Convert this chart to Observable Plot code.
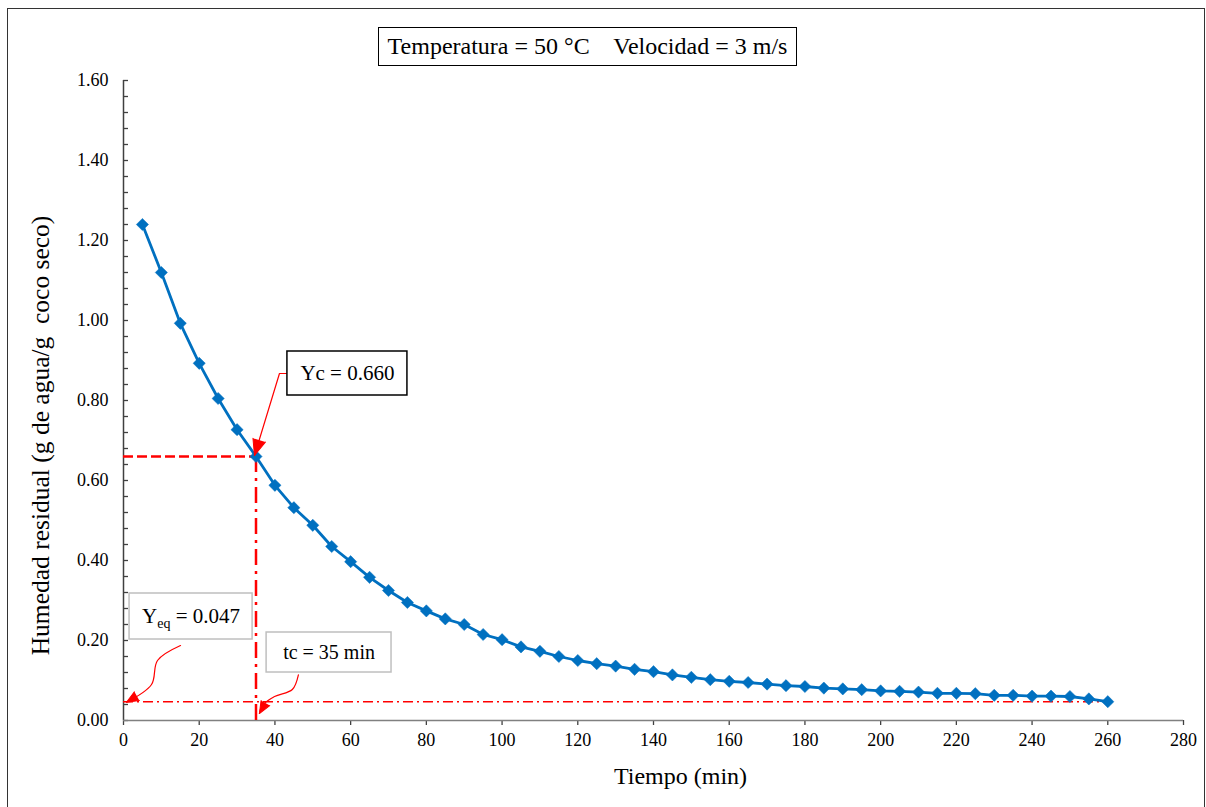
<!DOCTYPE html>
<html><head><meta charset="utf-8">
<script src="https://cdn.jsdelivr.net/npm/d3@7"></script>
<script src="https://cdn.jsdelivr.net/npm/@observablehq/plot@0.6"></script>
<style>
body{margin:0;background:#fff;}
#wrap{position:relative;width:1206px;height:807px;overflow:hidden;font-family:"Liberation Serif","Times New Roman",serif;}
#frame{position:absolute;left:7px;top:8px;width:1198px;height:820px;border:1.5px solid #333;box-sizing:border-box;pointer-events:none;}
#title{position:absolute;left:378px;top:27px;width:419px;height:39px;border:1.5px solid #000;box-sizing:border-box;background:#fff;font-size:24px;line-height:36px;text-align:center;white-space:pre;color:#000;}
#chart{position:absolute;left:0;top:0;}
svg text{white-space:pre;}
</style></head>
<body><div id="wrap"><div id="chart"></div><div id="frame"></div><div id="title"></div></div>
<script>
// ---- texts
const titleText = "Temperatura = 50 °C    Velocidad = 3 m/s";
const xLabel = "Tiempo (min)";
const yLabel = "Humedad residual (g de agua/g  coco seco)";

// ---- data
const times = [5,10,15,20,25,30,35,40,45,50,55,60,65,70,75,80,85,90,95,100,105,110,115,120,125,130,135,140,145,150,155,160,165,170,175,180,185,190,195,200,205,210,215,220,225,230,235,240,245,250,255,260];
const moisture = [1.240,1.120,0.993,0.893,0.805,0.727,0.660,0.588,0.532,0.488,0.435,0.397,0.358,0.325,0.295,0.274,0.254,0.240,0.215,0.202,0.184,0.173,0.160,0.150,0.142,0.136,0.128,0.122,0.114,0.108,0.102,0.098,0.095,0.091,0.087,0.085,0.081,0.079,0.077,0.074,0.073,0.071,0.068,0.068,0.067,0.063,0.063,0.061,0.061,0.060,0.054,0.047];

// ---- ticks
const xTicks = [0,20,40,60,80,100,120,140,160,180,200,220,240,260,280];
const yTicks = [0,0.2,0.4,0.6,0.8,1.0,1.2,1.4,1.6];
const yMinorTicks = d3.range(0, 41).map(i => i * 0.04);

// ---- critical / equilibrium values
const tc = 35, Yc = 0.660, Yeq = 0.047, tEnd = 260;

// ---- annotation boxes (data coordinates)
const boxes = [
  {label: "Yc = 0.660", x1: 43.3, x2: 75.0, y1: 0.8125, y2: 0.9225, border: "#000", size: 21},
  {label: "Yeq = 0.047", x1: 1.6, x2: 34.1, y1: 0.2025, y2: 0.3175, border: "#bfbfbf", size: 21},
  {label: "tc = 35 min", x1: 37.8, x2: 70.8, y1: 0.12, y2: 0.22, border: "#bfbfbf", size: 20}
];
const ycLeader = [{x: 43.3, y: 0.8675}, {x: 41.2, y: 0.8675}, {x: 34.6, y: 0.6625}];
const yeqLeader = [{x: 15.06, y: 0.1875}, {x: 8.98, y: 0.15}, {x: 7.4, y: 0.09}, {x: 0.79, y: 0.0458}];
const tcLeader = [{x: 46.2, y: 0.114}, {x: 44.6, y: 0.0775}, {x: 39.9, y: 0.06}, {x: 36.7, y: 0.0375}, {x: 35.9, y: 0.0175}];
const bigHeads = [{x: 34.6, y: 0.6625, angle: 197}];
const smallHeads = [{x: 0.79, y: 0.0458, angle: 240}, {x: 35.9, y: 0.0175, angle: 210}];

const data = times.map((t, i) => ({t, Y: moisture[i]}));

document.getElementById("title").textContent = titleText;

const plot = Plot.plot({
  width: 1206, height: 807,
  marginLeft: 123, marginRight: 23, marginTop: 80, marginBottom: 87,
  style: {fontFamily: "'Liberation Serif','Times New Roman',serif", color: "#000", background: "transparent", overflow: "visible"},
  x: {domain: [0, 280]},
  y: {domain: [0, 1.6]},
  marks: [
    // axes
    Plot.axisY({ticks: yMinorTicks, tickSize: 5, dx: 5, tickFormat: () => "", label: null, stroke: "#404040", strokeWidth: 1.3}),
    Plot.axisY({ticks: yTicks, tickSize: 0, tickPadding: 15, tickFormat: d => d.toFixed(2), fontSize: 18, label: null, fill: "#000"}),
    Plot.axisX({ticks: xTicks, tickSize: 5, tickPadding: 8, fontSize: 18, label: null, stroke: "#404040", strokeWidth: 1.3, fill: "#000"}),
    Plot.ruleX([0], {stroke: "#404040", strokeWidth: 1.5}),
    Plot.ruleY([0], {stroke: "#808080", strokeWidth: 1.5}),
    Plot.text([xLabel], {frameAnchor: "bottom", textAnchor: "middle", dx: 27, dy: 63, fontSize: 24, fill: "#000"}),
    Plot.text([yLabel], {frameAnchor: "left", textAnchor: "middle", rotate: -90, dx: -83, dy: 35, fontSize: 25.5, fill: "#000"}),
    // reference lines
    Plot.ruleY([Yeq], {x1: 0, x2: tEnd, stroke: "#ff0000", strokeWidth: 1.5, strokeDasharray: "10,4,2,4"}),
    Plot.ruleY([Yc], {x1: 0, x2: tc, stroke: "#ff0000", strokeWidth: 2.5, strokeDasharray: "10,4"}),
    Plot.ruleX([tc], {y1: 0, y2: Yc, stroke: "#ff0000", strokeWidth: 2.5, strokeDasharray: "16,6,3,6"}),
    // data
    Plot.line(data, {x: "t", y: "Y", stroke: "#0070C0", strokeWidth: 2.8}),
    Plot.dot(data, {x: "t", y: "Y", symbol: "diamond2", r: 5.5, fill: "#0070C0", stroke: "#0070C0", strokeWidth: 0.5}),
    // annotations
    Plot.line(ycLeader, {x: "x", y: "y", stroke: "#ff0000", strokeWidth: 1.2}),
    Plot.line(yeqLeader, {x: "x", y: "y", stroke: "#ff0000", strokeWidth: 1.2, curve: "catmull-rom"}),
    Plot.line(tcLeader, {x: "x", y: "y", stroke: "#ff0000", strokeWidth: 1.2, curve: "catmull-rom"}),
    Plot.vector(bigHeads, {x: "x", y: "y", rotate: "angle", shape: "spike", length: 16, r: 6.5, anchor: "end", fill: "#ff0000", stroke: "#ff0000", strokeWidth: 1}),
    Plot.vector(smallHeads, {x: "x", y: "y", rotate: "angle", shape: "spike", length: 12, r: 5, anchor: "end", fill: "#ff0000", stroke: "#ff0000", strokeWidth: 1}),
    Plot.rect(boxes, {x1: "x1", x2: "x2", y1: "y1", y2: "y2", fill: "#fff", stroke: "border", strokeWidth: 1.5}),
    Plot.text(boxes, {x: d => (d.x1 + d.x2) / 2, y: d => (d.y1 + d.y2) / 2, text: "label", fontSize: "size", fill: "#000"})
  ]
});
document.getElementById("chart").appendChild(plot);

// subscript for Y_eq
d3.select(plot).selectAll("text").filter(function () { return this.textContent === "Yeq = 0.047"; })
  .each(function () {
    const t = d3.select(this);
    t.text(null);
    t.append("tspan").text("Y");
    t.append("tspan").attr("dy", 5).attr("font-size", 14).text("eq");
    t.append("tspan").attr("dy", -5).text(" = 0.047");
  });
</script>
</body></html>
